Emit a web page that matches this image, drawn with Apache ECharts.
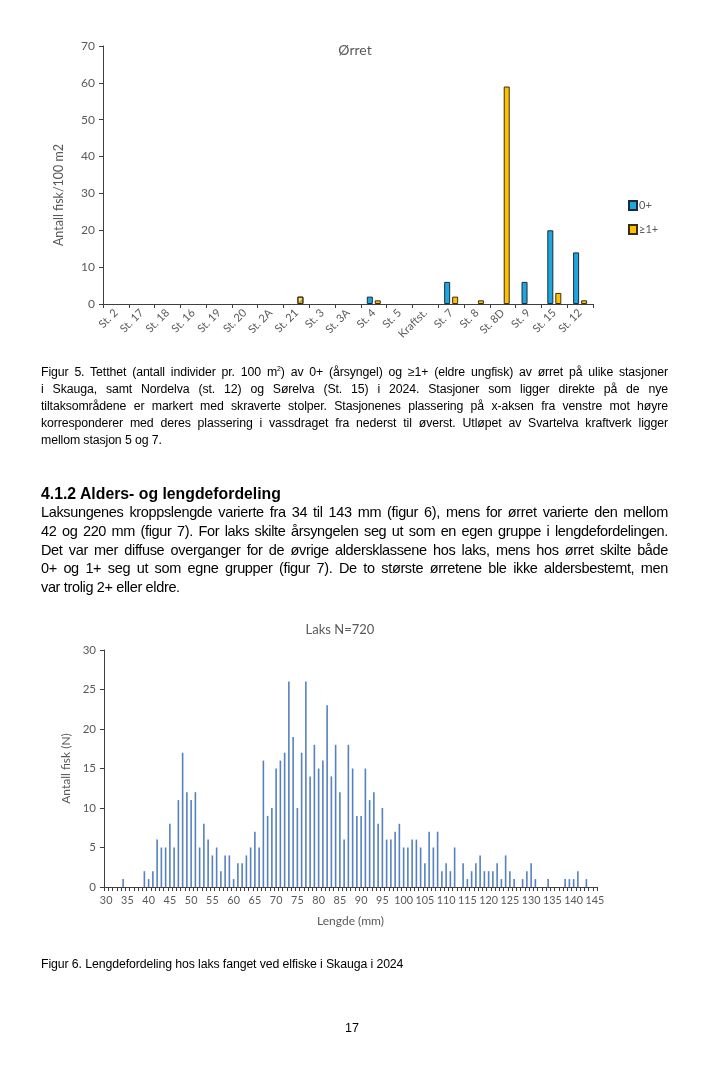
<!DOCTYPE html>
<html>
<head>
<meta charset="utf-8">
<script src="https://cdn.jsdelivr.net/npm/echarts@6/dist/echarts.min.js"></script>
<style>
  html,body{margin:0;padding:0;background:#fff;}
  body{width:714px;height:1082px;position:relative;overflow:hidden;font-family:"Liberation Sans",Arial,sans-serif;color:#000;}
  #chart{position:absolute;left:0;top:0;width:714px;height:1082px;}
  .blk{position:absolute;left:41px;width:627px;}
  .ln{text-align:justify;text-align-last:justify;white-space:normal;}
  .last{text-align:left;text-align-last:left;}
  .cap{font-size:12.3px;line-height:17px;letter-spacing:-0.1px;}
  .par{font-size:14.5px;line-height:18.8px;letter-spacing:-0.35px;}
  .hd{font-size:15.8px;font-weight:bold;line-height:18px;}
</style>
</head>
<body>
<div id="chart"></div>

<div class="blk cap" style="top:364px;">
  <div class="ln">Figur 5. Tetthet (antall individer pr. 100 m<sup style="font-size:7px;line-height:0">2</sup>) av 0+ (årsyngel) og ≥1+ (eldre ungfisk) av ørret på ulike stasjoner</div>
  <div class="ln">i Skauga, samt Nordelva (st. 12) og Sørelva (St. 15) i 2024. Stasjoner som ligger direkte på de nye</div>
  <div class="ln">tiltaksområdene er markert med skraverte stolper. Stasjonenes plassering på x-aksen fra venstre mot høyre</div>
  <div class="ln">korresponderer med deres plassering i vassdraget fra nederst til øverst. Utløpet av Svartelva kraftverk ligger</div>
  <div class="ln last">mellom stasjon 5 og 7.</div>
</div>

<div class="blk hd" style="top:485px;">4.1.2 Alders- og lengdefordeling</div>

<div class="blk par" style="top:503px;">
  <div class="ln">Laksungenes kroppslengde varierte fra 34 til 143 mm (figur 6), mens for ørret varierte den mellom</div>
  <div class="ln">42 og 220 mm (figur 7). For laks skilte årsyngelen seg ut som en egen gruppe i lengdefordelingen.</div>
  <div class="ln">Det var mer diffuse overganger for de øvrige aldersklassene hos laks, mens hos ørret skilte både</div>
  <div class="ln">0+ og 1+ seg ut som egne grupper (figur 7). De to største ørretene ble ikke aldersbestemt, men</div>
  <div class="ln last">var trolig 2+ eller eldre.</div>
</div>

<div class="blk cap" style="top:956px;">
  <div class="ln last">Figur 6. Lengdefordeling hos laks fanget ved elfiske i Skauga i 2024</div>
</div>

<div style="position:absolute;left:0;width:714px;top:1020px;text-align:center;font-size:12.5px;line-height:16px;"><span style="position:relative;left:-5px;">17</span></div>

<script>
// ---- Top chart data (Ørret) ----
const stations = ['St. 2','St. 17','St. 18','St. 16','St. 19','St. 20','St. 2A','St. 21','St. 3','St. 3A','St. 4','St. 5','Kraftst.','St. 7','St. 8','St. 8D','St. 9','St. 15','St. 12'];
const yngel = [0,0,0,0,0,0,0,0,0,0,2,0,0,6,0,0,6,20,14];      // 0+
const eldre = [0,0,0,0,0,0,0,2,0,0,1,0,0,2,1,59,0,3,1];       // ≥1+
const hatchedStations = ['St. 21'];
const yTicksTop = [0,10,20,30,40,50,60,70];

// ---- Bottom chart data (Laks N=720) ----
const lengths = ['30','31','32','33','34','35','36','37','38','39',
  '40','41','42','43','44','45','46','47','48','49',
  '50','51','52','53','54','55','56','57','58','59',
  '60','61','62','63','64','65','66','67','68','69',
  '70','71','72','73','74','75','76','77','78','79',
  '80','81','82','83','84','85','86','87','88','89',
  '90','91','92','93','94','95','96','97','98','99',
  '100','101','102','103','104','105','106','107','108','109',
  '110','111','112','113','114','115','116','117','118','119',
  '120','121','122','123','124','125','126','127','128','129',
  '130','131','132','133','134','135','136','137','138','139',
  '140','141','142','143','144','145'];
const counts = [0,0,0,0,1,0,0,0,0,2,
  1,2,6,5,5,8,5,11,17,12,
  11,12,5,8,6,4,5,2,4,4,
  1,3,3,4,5,7,5,16,9,10,
  15,16,17,26,19,10,17,26,14,18,
  15,16,23,14,18,12,6,18,15,9,
  9,15,11,12,8,10,6,6,7,8,
  5,5,6,6,5,3,7,5,7,2,
  3,2,5,0,3,1,2,3,4,2,
  2,2,3,1,4,2,1,0,1,2,
  3,1,0,0,1,0,0,0,1,1,
  1,2,0,1,0,0];
const yTicksBottom = [0,5,10,15,20,25,30];

const FONT = 'Lato';
const GREY = '#595959';
const AXIS = '#3f3f3f';

// zero values are not drawn in the reference
const noZero = v => (v === 0 ? '-' : v);

const yngelData = yngel.map(noZero);
const eldreData = eldre.map((v, i) => {
  if (v !== 0 && hatchedStations.indexOf(stations[i]) >= 0) {
    return {
      value: v,
      itemStyle: {
        color: '#ffe38a',
        decal: { color: 'rgba(190,140,0,0.85)', dashArrayX: [1, 0], dashArrayY: [1.2, 2.2], rotation: -Math.PI / 4, symbolSize: 1 }
      }
    };
  }
  return noZero(v);
});

const chart = echarts.init(document.getElementById('chart'), null, { renderer: 'canvas' });
chart.setOption({
  animation: false,
  textStyle: { fontFamily: FONT },
  title: [
    { text: 'Ørret', left: 350, top: 38, textAlign: 'center',
      textStyle: { fontFamily: FONT, fontSize: 14, fontWeight: 'normal', color: GREY } },
    { text: 'Laks N=720', left: 335, top: 618, textAlign: 'center',
      textStyle: { fontFamily: FONT, fontSize: 13, fontWeight: 'normal', color: GREY } }
  ],
  legend: {
    data: ['0+', '≥1+'],
    orient: 'vertical',
    left: 623, top: 195,
    itemWidth: 8, itemHeight: 9, itemGap: 13,
    icon: 'rect',
    textStyle: { fontFamily: FONT, fontSize: 11, color: GREY, padding: [0, 0, 0, -3] }
  },
  grid: [
    { left: 103, right: 121, top: 46, bottom: 778 },
    { left: 104, right: 117, top: 650, bottom: 195 }
  ],
  xAxis: [
    {
      type: 'category', gridIndex: 0, data: stations,
      axisLine: { lineStyle: { color: AXIS, width: 1 } },
      axisTick: { show: true, length: 4, lineStyle: { color: AXIS } },
      axisLabel: { interval: 0, rotate: 45, fontFamily: FONT, fontSize: 11, color: GREY, margin: 7 }
    },
    {
      type: 'category', gridIndex: 1, data: lengths,
      axisLine: { lineStyle: { color: AXIS, width: 1 } },
      axisTick: { show: true, interval: 0, length: 4, lineStyle: { color: AXIS } },
      axisLabel: { interval: 4, fontFamily: FONT, fontSize: 10.8, color: GREY, margin: 8 },
      name: 'Lengde (mm)', nameLocation: 'middle', nameGap: 28,
      nameTextStyle: { fontFamily: FONT, fontSize: 12, color: GREY }
    }
  ],
  yAxis: [
    {
      type: 'value', gridIndex: 0, min: yTicksTop[0], max: yTicksTop[yTicksTop.length - 1], interval: 10,
      splitLine: { show: false },
      axisLine: { show: true, lineStyle: { color: AXIS } },
      axisTick: { show: true, length: 4, lineStyle: { color: AXIS } },
      axisLabel: { fontFamily: FONT, fontSize: 12, color: GREY, margin: 8 },
      name: 'Antall fisk/100 m2', nameLocation: 'middle', nameGap: 38,
      nameTextStyle: { fontFamily: FONT, fontSize: 12.5, color: GREY, padding: [0, 40, 0, 0] }
    },
    {
      type: 'value', gridIndex: 1, min: yTicksBottom[0], max: yTicksBottom[yTicksBottom.length - 1], interval: 5,
      splitLine: { show: false },
      axisLine: { show: true, lineStyle: { color: AXIS } },
      axisTick: { show: true, length: 4, lineStyle: { color: AXIS } },
      axisLabel: { fontFamily: FONT, fontSize: 11.5, color: GREY, margin: 8 },
      name: 'Antall fisk (N)', nameLocation: 'middle', nameGap: 30,
      nameTextStyle: { fontFamily: FONT, fontSize: 12, color: GREY }
    }
  ],
  series: [
    {
      name: '0+', type: 'bar', xAxisIndex: 0, yAxisIndex: 0, data: yngelData,
      barWidth: 6, barGap: '33%',
      itemStyle: { color: '#1ea6df', borderColor: '#1b2a3a', borderWidth: 1 }
    },
    {
      name: '≥1+', type: 'bar', xAxisIndex: 0, yAxisIndex: 0, data: eldreData,
      barWidth: 6,
      itemStyle: { color: '#ffc000', borderColor: '#3a2e10', borderWidth: 1 }
    },
    {
      name: 'Laks', type: 'bar', xAxisIndex: 1, yAxisIndex: 1, data: counts,
      barWidth: 1.6,
      itemStyle: { color: '#5581bf' }
    }
  ]
});
</script>
</body>
</html>
